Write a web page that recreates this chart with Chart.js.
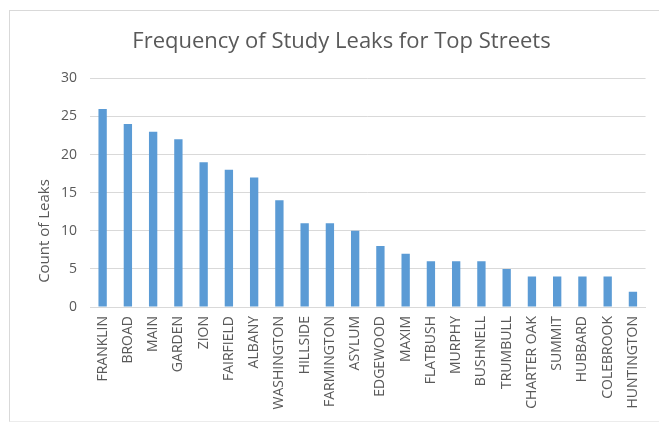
<!DOCTYPE html>
<html>
<head>
<meta charset="utf-8">
<script src="https://cdn.jsdelivr.net/npm/chart.js@4/dist/chart.umd.min.js"></script>
<style>
  html, body { margin: 0; padding: 0; background: #fff; }
  .frame { position: absolute; left: 9px; top: 10px; width: 660px; height: 410px;
           border-left: 1px solid #d9d9d9; border-top: 1px solid #d9d9d9; border-bottom: 1px solid #ececec; }
  .graphics { position: absolute; left: 0; top: 0; width: 659px; height: 425px; }
</style>
</head>
<body>
<div class="frame"></div>
<div class="graphics">
  <canvas id="barChart" width="659" height="425"></canvas>
</div>
<script>
var streets = ["FRANKLIN", "BROAD", "MAIN", "GARDEN", "ZION", "FAIRFIELD", "ALBANY",
  "WASHINGTON", "HILLSIDE", "FARMINGTON", "ASYLUM", "EDGEWOOD", "MAXIM", "FLATBUSH",
  "MURPHY", "BUSHNELL", "TRUMBULL", "CHARTER OAK", "SUMMIT", "HUBBARD", "COLEBROOK", "HUNTINGTON"];
var leakCounts = [26, 24, 23, 22, 19, 18, 17, 14, 11, 11, 10, 8, 7, 6, 6, 6, 5, 4, 4, 4, 4, 2];
var yTicks = [0, 5, 10, 15, 20, 25, 30];

var textColor = "#595959";
var fontFamily = "'Open Sans', 'Noto Sans', sans-serif";

// y axis title, sits a bit below the middle like in excel
var yTitlePlugin = {
  id: "yTitle",
  afterDraw: function (chart) {
    var c = chart.ctx;
    var area = chart.chartArea;
    c.save();
    c.translate(45, area.bottom - 76);
    c.rotate(-Math.PI / 2);
    c.fillStyle = textColor;
    c.font = "15px " + fontFamily;
    c.textAlign = "center";
    c.textBaseline = "middle";
    c.fillText("Count of Leaks", 0, 0);
    c.restore();
  },
};

var ctx = document.getElementById("barChart").getContext("2d");
var myBarChart = new Chart(ctx, {
  type: "bar",
  data: {
    labels: streets,
    datasets: [
      {
        label: "Count of Leaks",
        data: leakCounts,
        backgroundColor: "#5B9BD5",
        barPercentage: 0.33,
        categoryPercentage: 1.0,
      },
    ],
  },
  plugins: [yTitlePlugin],
  options: {
    responsive: false,
    animation: false,
    layout: { padding: { left: 36, right: 12, top: 0, bottom: 0 } },
    plugins: {
      legend: { display: false },
      tooltip: { enabled: false },
      title: {
        display: true,
        text: "Frequency of Study Leaks for Top Streets",
        color: textColor,
        font: { family: fontFamily, size: 22, weight: "normal" },
        padding: { top: 29, bottom: 23 },
      },
    },
    scales: {
      x: {
        grid: { display: false, drawTicks: false },
        border: { color: "#d9d9d9" },
        ticks: {
          color: textColor,
          font: { family: fontFamily, size: 14 },
          maxRotation: 90,
          minRotation: 90,
          autoSkip: false,
          padding: 9,
        },
        afterFit: function (scale) { scale.height = 118; },
      },
      y: {
        min: 0,
        max: 30,
        afterBuildTicks: function (scale) {
          scale.ticks = yTicks.map(function (v) { return { value: v }; });
        },
        grid: { color: "#d9d9d9", drawTicks: false },
        border: { display: false },
        ticks: {
          color: textColor,
          font: { family: fontFamily, size: 14 },
          padding: 13,
        },
        afterFit: function (scale) { scale.width = 54; },
      },
    },
  },
});
</script>
</body>
</html>
